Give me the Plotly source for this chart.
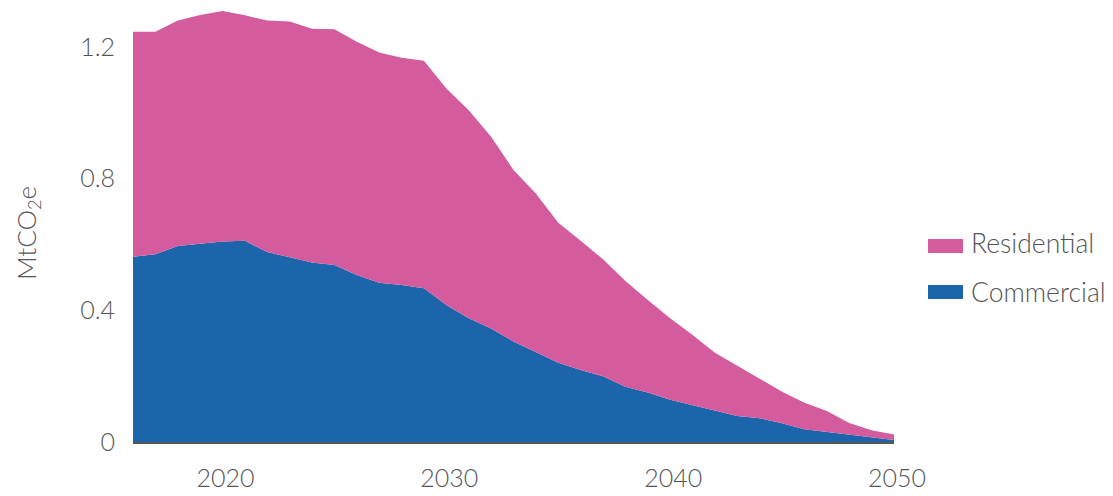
import plotly.graph_objects as go

years = list(range(2016, 2051))
commercial = [0.563, 0.570, 0.595, 0.603, 0.609, 0.611, 0.577, 0.561, 0.545, 0.538,
              0.507, 0.484, 0.477, 0.467, 0.416, 0.376, 0.345, 0.305, 0.274, 0.241,
              0.219, 0.200, 0.168, 0.150, 0.128, 0.112, 0.097, 0.079, 0.072, 0.057,
              0.039, 0.031, 0.023, 0.016, 0.006]
residential = [0.683, 0.676, 0.685, 0.694, 0.700, 0.685, 0.703, 0.716, 0.710, 0.716,
               0.709, 0.699, 0.690, 0.691, 0.658, 0.632, 0.582, 0.521, 0.481, 0.425,
               0.392, 0.355, 0.321, 0.281, 0.248, 0.213, 0.174, 0.152, 0.119, 0.096,
               0.080, 0.063, 0.035, 0.020, 0.017]
x_ticks = [2020, 2030, 2040, 2050]
y_ticks = [0, 0.4, 0.8, 1.2]
y_tick_text = ["0", "0.4", "0.8", "1.2"]
legend_names = ["Residential", "Commercial"]

BLUE = "#1C65AA"
PINK = "#D45B9E"
FONT = "Lato"
GREY = "#555555"

fig = go.Figure()
fig.add_trace(go.Scatter(x=years, y=commercial, name="Commercial", mode="lines",
                         stackgroup="one", line=dict(width=0, color=BLUE),
                         fillcolor=BLUE))
fig.add_trace(go.Scatter(x=years, y=residential, name="Residential", mode="lines",
                         stackgroup="one", line=dict(width=0, color=PINK),
                         fillcolor=PINK))

# manual legend (filled rectangle swatches)
swatch_colors = [PINK, BLUE]
swatch_y = [(0.4355, 0.4677), (0.3295, 0.3618)]
text_y = [0.4585, 0.3456]
shapes = []
annotations = []
for name, col, (y0, y1), ty in zip(legend_names, swatch_colors, swatch_y, text_y):
    shapes.append(dict(type="rect", xref="paper", yref="paper", x0=1.0447, x1=1.0907,
                       y0=y0, y1=y1, fillcolor=col, line=dict(width=0)))
    annotations.append(dict(text=name, xref="paper", yref="paper", x=1.0986, y=ty,
                            xanchor="left", yanchor="middle", showarrow=False,
                            font=dict(family=FONT, size=26.5, color=GREY, weight=300)))

annotations.append(dict(text="MtCO<sub>2</sub>e", xref="paper", yref="paper",
                        x=-0.138, y=0.4816, textangle=-90, showarrow=False,
                        xanchor="center", yanchor="middle",
                        font=dict(family=FONT, size=26, color=GREY, weight=300)))

fig.update_layout(
    width=1105, height=488,
    margin=dict(l=125, r=219, t=0, b=54),
    plot_bgcolor="white", paper_bgcolor="white",
    font=dict(family=FONT, size=25, color=GREY, weight=300),
    showlegend=False,
    xaxis=dict(range=[2016, 2050], tickvals=x_ticks, showgrid=False, zeroline=False,
               showline=True, linecolor="#555555", linewidth=1.5, ticks="",
               ticklabelstandoff=13, ticklabelshift=3,
               tickfont=dict(family=FONT, size=25, color=GREY, weight=300)),
    yaxis=dict(range=[0, 1.3183], tickvals=y_ticks, ticktext=y_tick_text,
               showgrid=False, zeroline=False, showline=False, ticks="",
               ticklabelstandoff=17,
               tickfont=dict(family=FONT, size=25, color=GREY, weight=300)),
    shapes=shapes,
    annotations=annotations,
)

fig.write_html("out.html")
